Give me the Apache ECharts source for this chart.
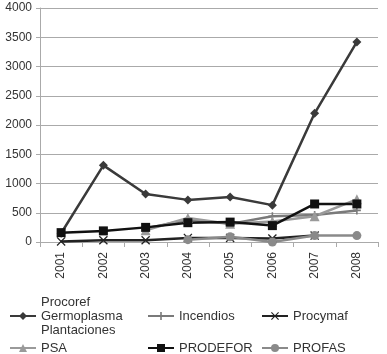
<!DOCTYPE html>
<html>
<head>
<meta charset="utf-8">
<script src="https://cdn.jsdelivr.net/npm/echarts@6/dist/echarts.min.js"></script>
<style>
  html, body { margin: 0; padding: 0; background: #fff; }
  #chart { width: 387px; height: 354px; }
</style>
</head>
<body>
<div id="chart"></div>
<script>
const years = ['2001', '2002', '2003', '2004', '2005', '2006', '2007', '2008'];
const yTicks = [0, 500, 1000, 1500, 2000, 2500, 3000, 3500, 4000];

const procoref = [150, 1310, 820, 720, 770, 630, 2200, 3420];
const incendios = [null, null, 230, 380, 310, 440, 460, 540];
const procymaf = [10, 30, 30, 70, 70, 60, 110, null];
const psa = [null, null, 200, 410, 310, 350, 440, 730];
const prodefor = [160, 190, 250, 330, 340, 280, 650, 650];
const profas = [null, null, null, 40, 90, 0, 110, 110];

const xPath = 'path://M0,1L1,0L5,4L9,0L10,1L6,5L10,9L9,10L5,6L1,10L0,9L4,5Z';
const plusPath = 'path://M4,0H6V4H10V6H6V10H4V6H0V4H4Z';

const font = 'Liberation Sans';

const mk = (name, data, color, symbol, size) => ({
  name: name,
  type: 'line',
  data: data,
  symbol: symbol,
  symbolSize: size,
  showAllSymbol: true,
  connectNulls: false,
  lineStyle: { color: color, width: 2.5 },
  itemStyle: { color: color },
  emphasis: { disabled: true },
  animation: false,
});

const series = [
  mk('Procoref\nGermoplasma\nPlantaciones', procoref, '#3a3a3a', 'diamond', 9),
  mk('Incendios', incendios, '#7a7a7a', plusPath, 8),
  mk('Procymaf', procymaf, '#222222', xPath, 9),
  mk('PSA', psa, '#9a9a9a', 'triangle', 10),
  mk('PRODEFOR', prodefor, '#111111', 'rect', 9),
  mk('PROFAS', profas, '#8a8a8a', 'circle', 9),
];

const leg = (name, left, top) => ({
  data: [name],
  left: left,
  top: top,
  itemWidth: 26,
  itemHeight: 10,
  selectedMode: false,
  textStyle: { fontFamily: font, fontSize: 13, color: '#333', lineHeight: 14 },
});

const chart = echarts.init(document.getElementById('chart'));
chart.setOption({
  backgroundColor: '#fff',
  animation: false,
  grid: { left: 40, right: 9, top: 8, bottom: 112, containLabel: false },
  legend: [
    leg(series[0].name, 4, 290),
    leg('Incendios', 142, 304),
    leg('Procymaf', 256, 304),
    leg('PSA', 4, 336),
    leg('PRODEFOR', 142, 336),
    leg('PROFAS', 256, 336),
  ],
  xAxis: {
    type: 'category',
    data: years,
    boundaryGap: true,
    axisLine: { lineStyle: { color: '#aaa', width: 1 } },
    axisTick: { show: true, length: 5, lineStyle: { color: '#aaa' } },
    axisLabel: { rotate: 90, fontFamily: font, fontSize: 12, color: '#333', margin: 10 },
    splitLine: { show: false },
  },
  yAxis: {
    type: 'value',
    min: yTicks[0],
    max: yTicks[yTicks.length - 1],
    interval: yTicks[1] - yTicks[0],
    axisLine: { show: true, lineStyle: { color: '#aaa', width: 1 } },
    axisTick: { show: true, length: 4, lineStyle: { color: '#aaa' } },
    axisLabel: { fontFamily: font, fontSize: 12, color: '#333', margin: 8, formatter: (v) => String(v) },
    splitLine: { lineStyle: { color: '#aaa', width: 1 } },
  },
  series: series,
});
</script>
</body>
</html>
